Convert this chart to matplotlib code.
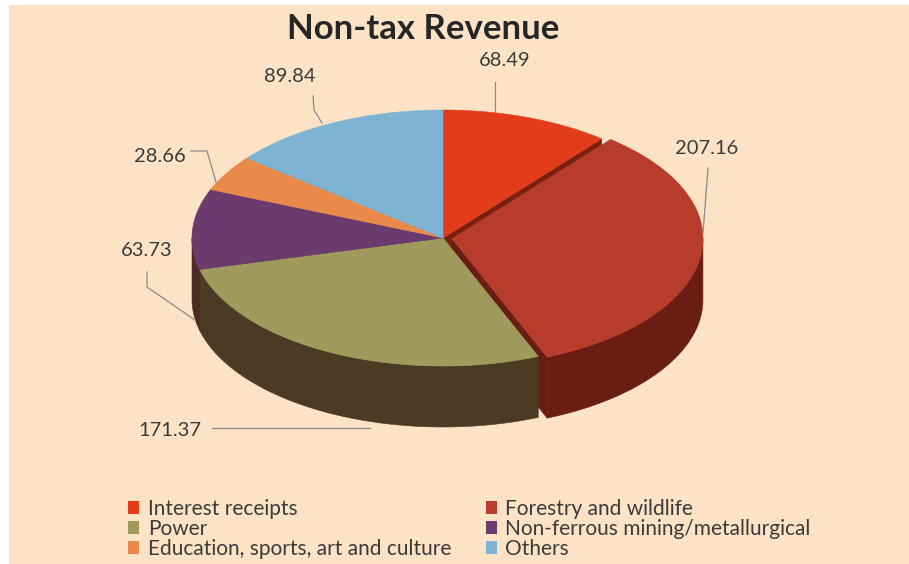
import numpy as np
import matplotlib.pyplot as plt
from matplotlib.patches import Polygon, Rectangle

plt.rcParams['font.family'] = ['Lato', 'DejaVu Sans']

categories = ['Interest receipts', 'Forestry and wildlife', 'Power',
              'Non-ferrous mining/metallurgical',
              'Education, sports, art and culture', 'Others']
values = [68.49, 207.16, 171.37, 63.73, 28.66, 89.84]
value_labels = ['68.49', '207.16', '171.37', '63.73', '28.66', '89.84']
top_colors = ['#e23c1b', '#b73c2b', '#a09b5c', '#6b3b6d', '#e9894a', '#7eb4d2']
side_colors = ['#7a200f', '#6a1d13', '#4b3a24', '#4e2a24', '#7d4520', '#3f5e70']
explode = [0, 0.036, 0, 0, 0, 0]

# label text positions and leader lines (pixels, y downward)
label_pos = [(505, 60), (707, 148), (170, 430), (147, 250), (160, 156), (290, 76)]
leaders = [
    [(495, 82), (495, 112)],
    [(708, 168), (703, 233)],
    [(212, 428), (370, 428)],
    [(147, 272), (147, 287), (195, 320)],
    [(191, 151), (207, 151), (216, 182)],
    [(313, 96), (314, 110), (322, 123)],
]

W, H = 909, 564
cx, cy = 443, 238      # centre of the top face
rx, ry = 251, 128      # radii of the top ellipse
depth = 61             # thickness of the disc

fig = plt.figure(figsize=(W / 100, H / 100), dpi=100, facecolor='white')
ax = fig.add_axes([0, 0, 1, 1])
ax.set_xlim(0, W)
ax.set_ylim(H, 0)
ax.axis('off')
ax.add_patch(Rectangle((9, 5), W, H, facecolor='#fce3c5', edgecolor='none', zorder=0))


def pt(theta, ox, oy, z=0.0):
    return (cx + ox + rx * np.cos(theta), cy + oy - ry * np.sin(theta) + z)


fracs = np.array(values) / sum(values)
ends = np.radians(90 - 360 * np.cumsum(fracs))
starts = np.concatenate([[np.radians(90)], ends[:-1]])

faces, walls, tops = [], [], []
for i, (s, e) in enumerate(zip(starts, ends)):
    mid = (s + e) / 2
    ox = explode[i] * rx * np.cos(mid)
    oy = -explode[i] * ry * np.sin(mid)
    apex = (cx + ox, cy + oy)
    apex_low = (cx + ox, cy + oy + depth)

    arc = np.linspace(s, e, 120)
    tops.append(([apex] + [pt(t, ox, oy) for t in arc], top_colors[i]))

    # outer wall, only the front half of the disc shows
    a, b = min(s, 0.0), max(e, -np.pi)
    if a > b:
        t = np.linspace(a, b, 120)
        upper = [pt(v, ox, oy) for v in t]
        lower = [pt(v, ox, oy, depth) for v in t[::-1]]
        walls.append((upper + lower, side_colors[i]))

    # cut faces turned towards the viewer
    for ang, visible in ((s, np.cos(s) < -1e-9), (e, np.cos(e) > 1e-9)):
        if visible:
            faces.append(([apex, pt(ang, ox, oy), pt(ang, ox, oy, depth), apex_low],
                          side_colors[i]))

z = 2
for group in (faces, walls, tops):
    for verts, col in group:
        ax.add_patch(Polygon(verts, closed=True, facecolor=col, edgecolor=col,
                             linewidth=0.4, zorder=z))
    z += 1

for (lx, ly), txt, line in zip(label_pos, value_labels, leaders):
    ax.text(lx, ly, txt, fontsize=14.5, color='#3b3b3b', ha='center', va='center', zorder=10)
    xs, ys = zip(*line)
    ax.plot(xs, ys, color='#8c8a88', linewidth=0.9, zorder=9)

ax.text(423, 29, 'Non-tax Revenue', fontsize=25, fontweight='bold', color='#262626',
        ha='center', va='center', zorder=10)

handles = [Rectangle((0, 0), 1, 1, facecolor=c, edgecolor='none') for c in top_colors]
order = [0, 2, 4, 1, 3, 5]
ax.legend([handles[k] for k in order], [categories[k] for k in order],
          ncol=2, frameon=False, loc='upper left',
          bbox_to_anchor=(128 / W, 1 - 499 / H), borderpad=0, borderaxespad=0,
          fontsize=15, handlelength=0.55, handleheight=0.55, handletextpad=0.4,
          columnspacing=1.65, labelspacing=0.0, labelcolor='#3b3b3b')

fig.savefig('out.png', dpi=100, facecolor=fig.get_facecolor())
